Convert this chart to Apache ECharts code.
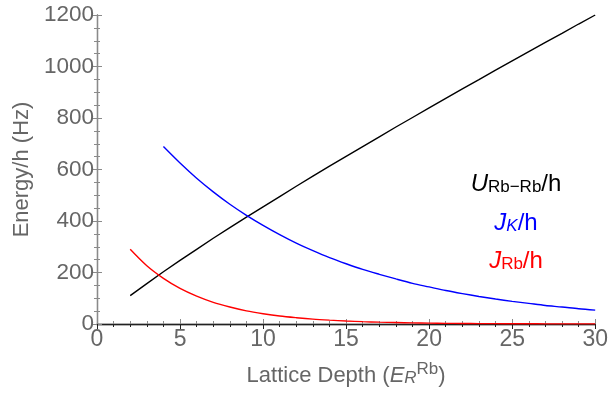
<!DOCTYPE html>
<html>
<head>
    <meta charset="UTF-8">
    <title>Lattice Depth</title>
    <script type="text/javascript" src="https://cdn.jsdelivr.net/npm/echarts@6/dist/echarts.min.js"></script>
</head>
<body style="margin: 0;padding: 0;">
    <div id="container" style="width:611px; height:394px;"></div>
    <script>
        // values
        var depthU = [2, 3, 4, 5, 6, 7, 8, 9, 10, 11, 12, 13, 14, 15, 16, 17, 18, 19, 20, 21, 22, 23, 24, 25, 26, 27, 28, 29, 30];
        var uRbRb = [110, 157, 203, 247, 290, 333, 374, 415, 455, 495, 535, 574, 613, 651, 689, 727, 765, 802, 839, 876, 913, 949, 986, 1022, 1058, 1094, 1129, 1165, 1200];
        var depthK = [4, 5, 6, 7, 8, 9, 10, 11, 12, 13, 14, 15, 16, 17, 18, 19, 20, 21, 22, 23, 24, 25, 26, 27, 28, 29, 30];
        var jK = [689, 625, 566, 513, 465, 422, 383, 347, 314, 285, 258, 234, 212, 193, 175, 158, 144, 130, 118, 107, 97, 88, 80, 72, 66, 59, 54];
        var depthRb = [2, 3, 4, 5, 6, 7, 8, 9, 10, 11, 12, 13, 14, 15, 16, 17, 18, 19, 20, 21, 22, 23, 24, 25, 26, 27, 28, 29, 30];
        var jRb = [290, 226, 177, 138, 108, 84, 66, 51, 40, 31, 24.5, 19, 15, 11.7, 9.1, 7.1, 5.6, 4.3, 3.4, 2.6, 2.1, 1.6, 1.3, 1.0, 0.8, 0.6, 0.5, 0.4, 0.3];
        var xTicks = [0, 5, 10, 15, 20, 25, 30];
        var yTicks = [0, 200, 400, 600, 800, 1000, 1200];

        function pairs(xs, ys) {
            return xs.map(function (x, i) { return [x, ys[i]]; });
        }

        var font = "'Liberation Sans', Arial, sans-serif";
        var gray = '#666666';
        var frame = '#8a8a8a';

        var chart = echarts.init(document.getElementById('container'), null, { renderer: 'canvas' });

        function frameAxis(pos, lineColor, showLabels) {
            return {
                position: pos,
                axisLine: { show: true, lineStyle: { color: lineColor, width: 1.3 } },
                axisTick: { show: true, inside: true, length: 5, lineStyle: { color: lineColor } },
                minorTick: { show: true, length: 3, lineStyle: { color: lineColor } },
                splitLine: { show: false },
                axisLabel: { show: showLabels }
            };
        }

        var xBottom = Object.assign(frameAxis('bottom', frame, true), {
            type: 'value', min: 0, max: 30, interval: 5,
            minorTick: { show: true, splitNumber: 5, length: 3, lineStyle: { color: frame } },
            axisLabel: { show: true, color: gray, fontSize: 23, fontFamily: font, margin: 4,
                formatter: function (v) { return xTicks.indexOf(v) >= 0 ? String(v) : ''; } },
            name: '{t|Lattice Depth (}{i|E}{sub|R}{sup|Rb}{t|)}',
            nameLocation: 'middle',
            nameGap: 37,
            nameTextStyle: {
                rich: {
                    t: { fontSize: 22, color: gray, fontFamily: font, lineHeight: 26, verticalAlign: 'bottom' },
                    i: { fontSize: 22, color: gray, fontFamily: font, fontStyle: 'italic', lineHeight: 26, verticalAlign: 'bottom' },
                    sub: { fontSize: 17, color: gray, fontFamily: font, fontStyle: 'italic', lineHeight: 10, verticalAlign: 'bottom' },
                    sup: { fontSize: 17, color: gray, fontFamily: font, lineHeight: 15, verticalAlign: 'top' }
                }
            }
        });
        var xTop = Object.assign(frameAxis('top', '#222222', false), {
            type: 'value', min: 0, max: 30, interval: 5,
            minorTick: { show: true, splitNumber: 5, length: 3, lineStyle: { color: '#222222' } }
        });
        var yLeft = Object.assign(frameAxis('left', frame, true), {
            type: 'value', min: 0, max: 1200, interval: 200,
            minorTick: { show: true, splitNumber: 4, length: 3, lineStyle: { color: frame } },
            axisLabel: { show: true, color: gray, fontSize: 22.5, fontFamily: font, margin: 3,
                formatter: function (v) { return yTicks.indexOf(v) >= 0 ? String(v) : ''; } },
            name: 'Energy/h (Hz)',
            nameLocation: 'middle',
            nameRotate: 90,
            nameGap: 64,
            nameTextStyle: { color: gray, fontSize: 22, fontFamily: font }
        });
        var yRight = Object.assign(frameAxis('right', frame, false), {
            type: 'value', min: 0, max: 1200, interval: 200,
            minorTick: { show: true, splitNumber: 4, length: 3, lineStyle: { color: frame } }
        });

        function legendText(y, str, color) {
            return {
                type: 'text', x: 516, y: y, z: 100,
                style: {
                    text: str,
                    align: 'center',
                    verticalAlign: 'middle',
                    rich: {
                        i: { fontSize: 24, fill: color, fontFamily: font, fontStyle: 'italic', lineHeight: 28, verticalAlign: 'bottom' },
                        n: { fontSize: 24, fill: color, fontFamily: font, lineHeight: 28, verticalAlign: 'bottom' },
                        s: { fontSize: 17, fill: color, fontFamily: font, lineHeight: 12, verticalAlign: 'bottom' },
                        si: { fontSize: 17, fill: color, fontFamily: font, fontStyle: 'italic', lineHeight: 12, verticalAlign: 'bottom' }
                    }
                }
            };
        }

        var option = {
            animation: false,
            backgroundColor: '#ffffff',
            grid: { left: 97, right: 13, top: 15, bottom: 70 },
            xAxis: [xBottom, xTop],
            yAxis: [yLeft, yRight],
            series: [{
                name: 'U Rb-Rb',
                type: 'line',
                showSymbol: false,
                lineStyle: { color: '#000000', width: 1.4 },
                data: pairs(depthU, uRbRb)
            }, {
                name: 'J K',
                type: 'line',
                showSymbol: false,
                smooth: 0.3,
                lineStyle: { color: '#0000ff', width: 1.4 },
                data: pairs(depthK, jK)
            }, {
                name: 'J Rb',
                type: 'line',
                showSymbol: false,
                smooth: 0.3,
                lineStyle: { color: '#ff0000', width: 1.4 },
                data: pairs(depthRb, jRb)
            }],
            graphic: [
                legendText(182, '{i|U}{s|Rb\u2212Rb}{n|/h}', '#000000'),
                legendText(221, '{i|J}{si|K}{n|/h}', '#0000ff'),
                legendText(259, '{i|J}{s|Rb}{n|/h}', '#ff0000')
            ]
        };
        chart.setOption(option);
    </script>
</body>
</html>
